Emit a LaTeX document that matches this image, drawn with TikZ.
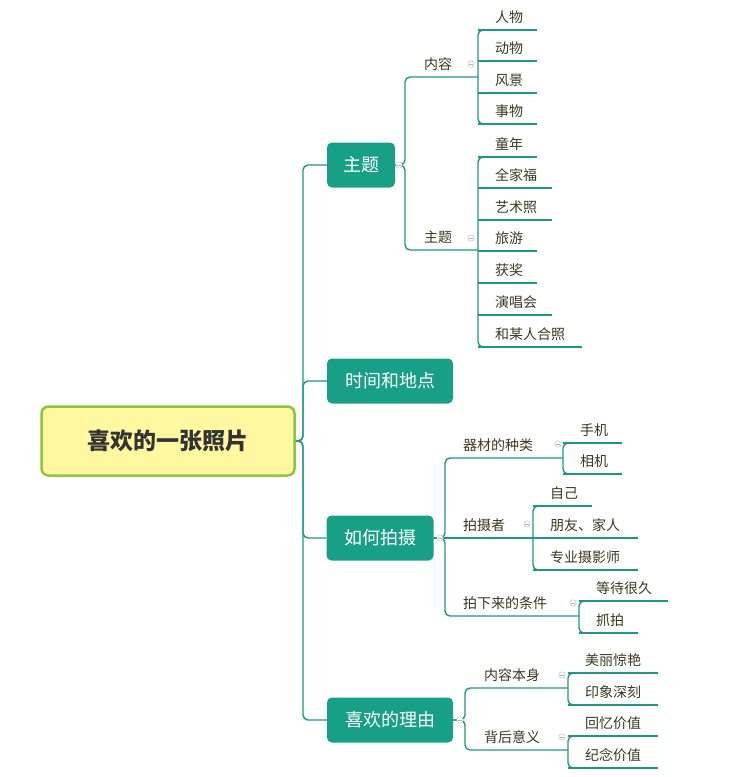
\documentclass[tikz,border=0pt]{standalone}
\usepackage{fontspec}
\setmainfont{Noto Sans CJK SC}
\usetikzlibrary{positioning}
\definecolor{teal1}{HTML}{17A086}
\definecolor{line1}{HTML}{1E9886}
\definecolor{txt1}{HTML}{3A3822}
\definecolor{cenfill}{HTML}{FFF8A0}
\definecolor{cenline}{HTML}{8CC63F}

% leaf: bracket x, underline y, text width, name, text
\newcommand{\leaf}[5]{%
  \node[leaf, text width=#3pt, anchor=south west] (#4) at (#1+17,#2) {#5};
  \draw[link] (#1,#2) -- (#4.south east);}
\newcommand{\fold}[2]{%
  \draw[gray!50, line width=0.5pt, fill=white] (#1,#2) circle (3.2);
  \draw[gray!60, line width=0.4pt] (#1-1.8,#2) -- (#1+1.8,#2);}

\begin{document}
\begin{tikzpicture}[x=1pt, y=-1pt,
  link/.style={draw=line1, line width=1.4pt, rounded corners=5pt},
  topic/.style={fill=teal1, text=white, rounded corners=5pt, font=\fontsize{18}{20}\selectfont,
    minimum height=45pt, inner xsep=12pt},
  central/.style={fill=cenfill, draw=cenline, line width=2.5pt, rounded corners=7pt,
    font=\fontsize{23}{25}\selectfont\bfseries, text=black!80, minimum width=253pt, minimum height=69pt},
  sub/.style={text=txt1, font=\fontsize{14}{16}\selectfont, inner sep=0pt, anchor=south west, yshift=6pt},
  leaf/.style={text=txt1, font=\fontsize{14}{16}\selectfont, inner xsep=0pt, inner ysep=6pt}]
\useasboundingbox (0,0) rectangle (746,777);

% central idea and main topics
\node[central] (cen) at (168,441) {喜欢的一张照片};
\node[topic, minimum width=68pt] (t1) at (361,165) {主题};
\node[topic, minimum width=126pt] (t2) at (390,381) {时间和地点};
\node[topic, minimum width=107pt] (t3) at (380,538) {如何拍摄};
\node[topic, minimum width=126pt] (t4) at (390,720) {喜欢的理由};
\coordinate (trunk) at (303,441);
\foreach \t in {t1,t2,t3,t4}
  \draw[link] (cen.east) -- (trunk) |- (\t.west);

% sub topics
\node[sub] (s11) at (424,77) {内容};
\node[sub] (s12) at (424,250) {主题};
\node[sub] (s31) at (463,458) {器材的种类};
\node[sub] (s32) at (463,538) {拍摄者};
\node[sub] (s33) at (463,616) {拍下来的条件};
\node[sub] (s41) at (484,688) {内容本身};
\node[sub] (s42) at (484,750) {背后意义};
\draw[link] (t1.east) -- (405,165) |- (478,77);
\draw[link] (t1.east) -- (405,165) |- (478,250);
\draw[link] (t3.east) -- (445,538) |- (563,458);
\draw[link] (t3.east) -- (533,538);
\draw[link] (t3.east) -- (445,538) |- (579,616);
\draw[link] (t4.east) -- (465,720) |- (568,688);
\draw[link] (t4.east) -- (465,720) |- (568,750);

% leaves
\leaf{478}{30}{42}{l1}{人物}
\leaf{478}{61}{42}{l2}{动物}
\leaf{478}{93}{42}{l3}{风景}
\leaf{478}{124}{42}{l4}{事物}
\draw[link] (l1.south west) -- (478,30) -- (478,124) -- (l4.south west);
\leaf{478}{157}{42}{m1}{童年}
\leaf{478}{188}{57}{m2}{全家福}
\leaf{478}{220}{57}{m3}{艺术照}
\leaf{478}{251}{42}{m4}{旅游}
\leaf{478}{283}{42}{m5}{获奖}
\leaf{478}{315}{57}{m6}{演唱会}
\leaf{478}{347}{87}{m7}{和某人合照}
\draw[link] (m1.south west) -- (478,157) -- (478,347) -- (m7.south west);
\leaf{563}{443}{42}{a1}{手机}
\leaf{563}{474}{42}{a2}{相机}
\draw[link] (a1.south west) -- (563,443) -- (563,474) -- (a2.south west);
\leaf{533}{506}{42}{b1}{自己}
\leaf{533}{538}{88}{b2}{朋友、家人}
\leaf{533}{570}{88}{b3}{专业摄影师}
\draw[link] (b1.south west) -- (533,506) -- (533,570) -- (b3.south west);
\leaf{579}{601}{72}{c1}{等待很久}
\leaf{579}{633}{42}{c2}{抓拍}
\draw[link] (c1.south west) -- (579,601) -- (579,633) -- (c2.south west);
\leaf{568}{673}{73}{d1}{美丽惊艳}
\leaf{568}{705}{73}{d2}{印象深刻}
\draw[link] (d1.south west) -- (568,673) -- (568,705) -- (d2.south west);
\leaf{568}{736}{73}{e1}{回忆价值}
\leaf{568}{768}{73}{e2}{纪念价值}
\draw[link] (e1.south west) -- (568,736) -- (568,768) -- (e2.south west);

% fold markers
\fold{399}{165} \fold{440}{538} \fold{460}{720}
\fold{471}{64} \fold{471}{238} \fold{558}{444} \fold{527}{524}
\fold{573}{603} \fold{562}{675} \fold{562}{737}
\end{tikzpicture}
\end{document}
